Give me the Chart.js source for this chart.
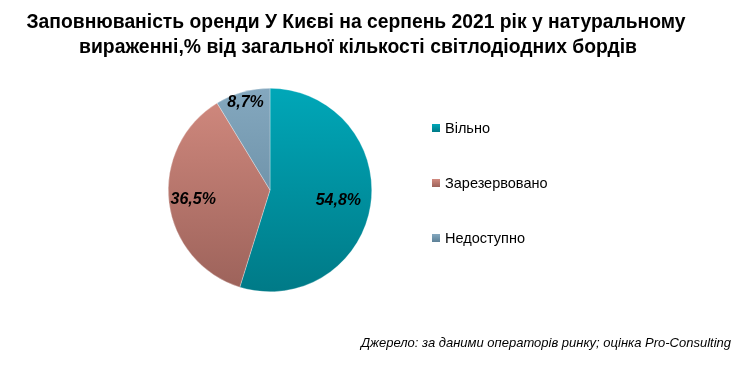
<!DOCTYPE html>
<html>
<head>
<meta charset="utf-8">
<script src="https://cdn.jsdelivr.net/npm/chart.js@4"></script>
<style>
  html, body { margin: 0; padding: 0; background: #fff; }
  #wrap { width: 753px; height: 365px; position: relative; }
</style>
</head>
<body>
<div id="wrap"><canvas id="chart" width="753" height="365"></canvas></div>
<script>
const titleLines = [
    'Заповнюваність оренди У Києві на серпень 2021 рік у натуральному',
    'вираженні,% від загальної кількості світлодіодних бордів'
];
const categories = ['Вільно', 'Зарезервовано', 'Недоступно'];
const shares = [54.8, 36.5, 8.7];
const valueLabels = ['54,8%', '36,5%', '8,7%'];
const sourceNote = 'Джерело: за даними операторів ринку; оцінка Pro-Consulting';

// top / bottom colours of each slice gradient
const sliceColors = [
    ['#00a7b8', '#007a87'],
    ['#d28a7f', '#9c625a'],
    ['#84a8bf', '#5d8197']
];
const labelRadius = [0.68, 0.76, 0.89];

function sliceFill(context) {
    const chart = context.chart;
    const area = chart.chartArea;
    const c = sliceColors[context.dataIndex];
    if (!area) return c[0];
    const g = chart.ctx.createLinearGradient(0, area.top, 0, area.bottom);
    g.addColorStop(0, c[0]);
    g.addColorStop(1, c[1]);
    return g;
}

// draws text squeezed horizontally so it looks like a narrow font
function narrowText(ctx, text, cx, y, width) {
    const w = ctx.measureText(text).width;
    ctx.save();
    ctx.translate(cx, y);
    ctx.scale(width / w, 1);
    ctx.fillText(text, 0, 0);
    ctx.restore();
}

const decorations = {
    id: 'decorations',
    afterDatasetsDraw(chart) {
        const ctx = chart.ctx;
        const meta = chart.getDatasetMeta(0);
        ctx.save();
        // slice labels
        ctx.fillStyle = '#000';
        ctx.font = 'italic bold 16px "Liberation Sans", Arial, sans-serif';
        ctx.textAlign = 'center';
        ctx.textBaseline = 'middle';
        meta.data.forEach((arc, i) => {
            const mid = (arc.startAngle + arc.endAngle) / 2;
            const r = arc.outerRadius * labelRadius[i];
            ctx.fillText(valueLabels[i], arc.x + Math.cos(mid) * r, arc.y + Math.sin(mid) * r);
        });

        // title
        ctx.font = 'bold 21px "Liberation Sans", Arial, sans-serif';
        narrowText(ctx, titleLines[0], 356, 22, 659);
        narrowText(ctx, titleLines[1], 358, 47, 558);

        // legend
        ctx.textAlign = 'left';
        ctx.font = '14.5px "Liberation Sans", Arial, sans-serif';
        categories.forEach((name, i) => {
            const y = 128 + i * 55;
            const g = ctx.createLinearGradient(0, y - 4, 0, y + 4);
            g.addColorStop(0, sliceColors[i][0]);
            g.addColorStop(1, sliceColors[i][1]);
            ctx.fillStyle = g;
            ctx.fillRect(432, y - 4, 8, 8);
            ctx.fillStyle = '#000';
            ctx.fillText(name, 445, y + 1);
        });

        // source
        ctx.textAlign = 'right';
        ctx.font = 'italic 13px "Liberation Sans", Arial, sans-serif';
        ctx.fillText(sourceNote, 731, 343);
        ctx.restore();
    }
};

new Chart(document.getElementById('chart'), {
    type: 'pie',
    data: {
        labels: categories,
        datasets: [{
            data: shares,
            backgroundColor: sliceFill,
            borderColor: 'rgba(255,255,255,0.6)',
            borderWidth: 0.5
        }]
    },
    options: {
        responsive: false,
        animation: false,
        layout: {
            padding: { left: 168, right: 381, top: 88, bottom: 73 }
        },
        plugins: {
            legend: { display: false },
            tooltip: { enabled: false },
            title: { display: false }
        }
    },
    plugins: [decorations]
});
</script>
</body>
</html>
